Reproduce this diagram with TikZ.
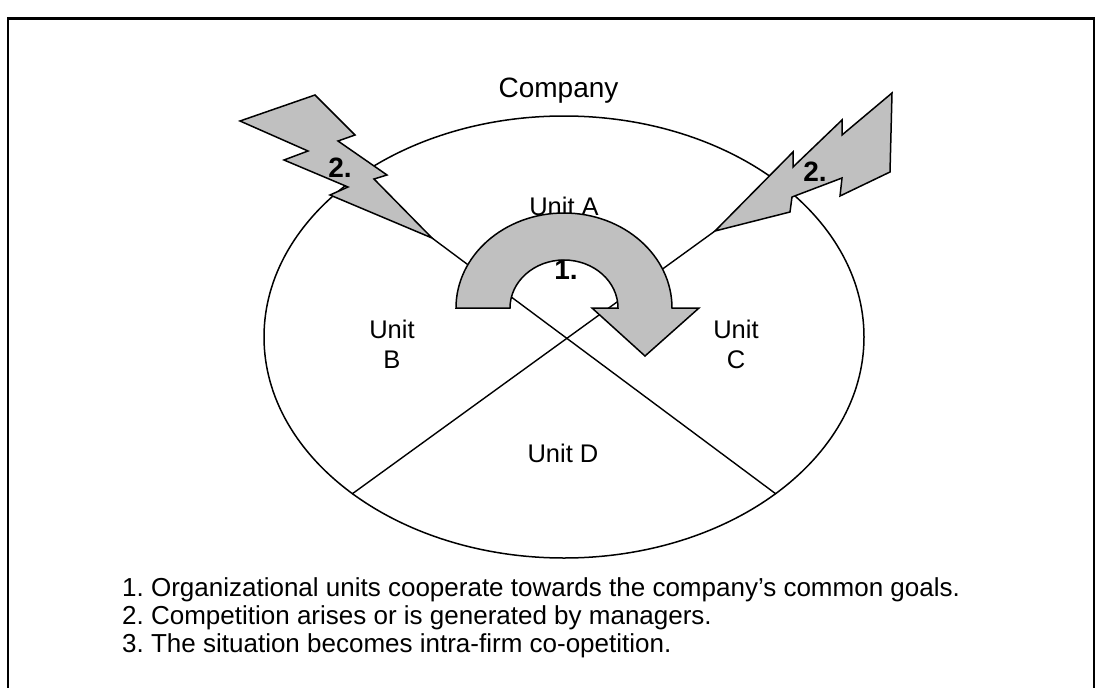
\documentclass[tikz,border=0pt]{standalone}
\usepackage{fontspec}
\setmainfont{Liberation Sans}
\frenchspacing
\definecolor{shapegray}{RGB}{192,192,192}
\begin{document}
\begin{tikzpicture}[x=1pt,y=-1pt,
  frameline/.style={line width=2.6pt,line cap=rect},
  rim/.style={line width=1.5pt},
  divider/.style={line width=1.4pt},
  shaded/.style={draw,fill=shapegray,line width=1.5pt,line join=miter},
  unitlbl/.style={font=\fontsize{25.5}{30}\selectfont,inner sep=0pt,align=center},
  steplbl/.style={font=\bfseries\fontsize{28}{32}\selectfont,inner sep=0pt},
  legend/.style={font=\fontsize{26}{28}\selectfont,inner sep=0pt,anchor=base west}]
\useasboundingbox (0,0) rectangle (1098,688);

% outer frame (its lower edge lies below the page)
\draw[frameline] (8,720) -- (8,18.5) -- (1094,18.5) -- (1094,720);

% company outline
\draw[rim] (564,337) ellipse [x radius=300, y radius=221];
\node[font=\fontsize{28}{32}\selectfont,inner sep=0pt,anchor=base] (company) at (558.5,97) {Company};

% end points of the two dividing lines
\coordinate (tipL) at (432,238);
\coordinate (tipR) at (715,231);
\coordinate (rimL) at (352,494);
\coordinate (rimR) at (776,494);
\draw[divider] (tipL) -- (rimR);
\draw[divider] (rimL) -- (tipR);

% unit labels
\node[unitlbl,anchor=base] (unitA) at (564,215) {Unit A};
\node[unitlbl] (unitB) at (392,344) {Unit\\B};
\node[unitlbl] (unitC) at (736,344) {Unit\\C};
\node[unitlbl,anchor=base] (unitD) at (563,462) {Unit D};

% cooperation arrow over unit A
\draw[shaded] (456,308) arc[start angle=180, end angle=360, x radius=108, y radius=95]
  -- (699,308) -- (645,356) -- (592,308) -- (618,308)
  arc[start angle=360, end angle=180, x radius=54, y radius=48] -- cycle;
\node[steplbl] (one) at (566,270) {1.};

% competition bolts
\draw[shaded] (240,121) -- (315,95) -- (355,135) -- (338,141) -- (387,175) -- (374,179)
  -- (tipL) -- (330,195) -- (348,187) -- (284,160) -- (308,151) -- cycle;
\draw[shaded] (tipR) -- (793,152) -- (793,167) -- (842,120) -- (842,135) -- (892,93)
  -- (890,172) -- (840,196) -- (842,178) -- (792,197) -- (790,212) -- cycle;
\node[steplbl] (twoL) at (340,168) {2.};
\node[steplbl] (twoR) at (815,172) {2.};

% legend
\node[legend] (legA) at (122,596) {1. Organizational units cooperate towards the company’s common goals.};
\node[legend] (legB) at (122,624) {2. Competition arises or is generated by managers.};
\node[legend] (legC) at (122,652) {3. The situation becomes intra-firm co-opetition.};
\end{tikzpicture}
\end{document}
